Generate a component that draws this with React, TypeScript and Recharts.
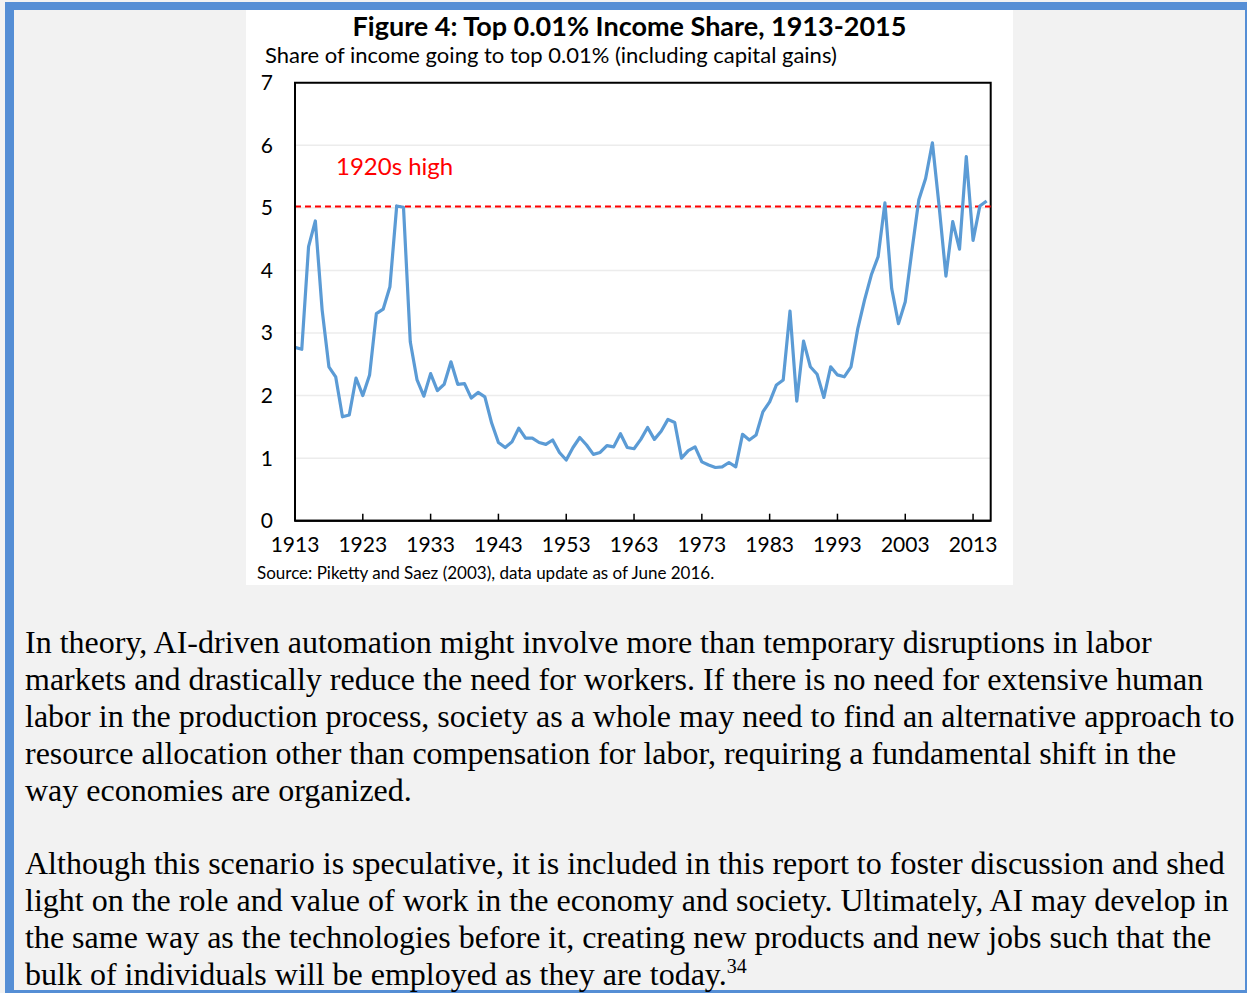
import {
    LineChart,
    Line,
    XAxis,
    YAxis,
    CartesianGrid,
    ReferenceLine,
    ReferenceArea,
} from "recharts";

// top 0.01% income share (incl. capital gains), one value per year from 1913
const startYear = 1913;
const shareValues: number[] = [
    2.77, 2.74, 4.38, 4.79, 3.37, 2.46, 2.3, 1.66, 1.69, 2.28, // 1913-1922
    2.0, 2.33, 3.31, 3.38, 3.74, 5.03, 5.01, 2.86, 2.25, 1.99, // 1923-1932
    2.35, 2.08, 2.18, 2.54, 2.18, 2.19, 1.96, 2.05, 1.98, 1.56, // 1933-1942
    1.25, 1.17, 1.26, 1.48, 1.32, 1.32, 1.25, 1.22, 1.29, 1.09, // 1943-1952
    0.97, 1.17, 1.33, 1.21, 1.06, 1.09, 1.2, 1.18, 1.39, 1.17, // 1953-1962
    1.15, 1.3, 1.49, 1.3, 1.43, 1.62, 1.57, 1.0, 1.12, 1.18, // 1963-1972
    0.94, 0.89, 0.85, 0.86, 0.93, 0.86, 1.38, 1.29, 1.37, 1.74, // 1973-1982
    1.9, 2.17, 2.25, 3.35, 1.91, 2.87, 2.46, 2.34, 1.97, 2.46, // 1983-1992
    2.33, 2.3, 2.46, 3.07, 3.53, 3.93, 4.22, 5.08, 3.71, 3.15, // 1993-2002
    3.5, 4.33, 5.13, 5.47, 6.04, 5.02, 3.91, 4.78, 4.34, 5.82, // 2003-2012
    4.48, 5.03, 5.11, // 2013-2015
];
const xTicks = [1913, 1923, 1933, 1943, 1953, 1963, 1973, 1983, 1993, 2003, 2013];
const yTicks = [0, 1, 2, 3, 4, 5, 6, 7];
const xDomain: [number, number] = [1913, 2015.6];
const yDomain: [number, number] = [0, 7];
const highMark = 5.02;

const paragraphOne = [
    "In theory, AI-driven automation might involve more than temporary disruptions in labor",
    "markets and drastically reduce the need for workers. If there is no need for extensive human",
    "labor in the production process, society as a whole may need to find an alternative approach to",
    "resource allocation other than compensation for labor, requiring a fundamental shift in the",
    "way economies are organized.",
];
const paragraphTwo = [
    "Although this scenario is speculative, it is included in this report to foster discussion and shed",
    "light on the role and value of work in the economy and society. Ultimately, AI may develop in",
    "the same way as the technologies before it, creating new products and new jobs such that the",
    "bulk of individuals will be employed as they are today.",
];

const data = shareValues.map((v, i) => ({ year: startYear + i, share: v }));

const chartFont = "Lato, 'Open Sans', sans-serif";
const bodyFont = "'Liberation Serif', 'Times New Roman', serif";
const blue = "#558ed5";

const XTick = (props: any) => {
    const { x, y, payload } = props;
    return (
        <g>
            <line x1={x} x2={x} y1={y} y2={y - 7} stroke="#000" strokeWidth={1.5} />
            <text x={x} y={y + 31} textAnchor="middle" fontSize={21} fill="#000" fontFamily={chartFont}>
                {payload.value}
            </text>
        </g>
    );
};

export default function App() {
    return (
        <div
            style={{
                position: "absolute",
                left: 0,
                top: 0,
                width: 1247,
                height: 993,
                background: "#f2f2f2",
                overflow: "hidden",
            }}
        >
            {/* page frame */}
            <div style={{ position: "absolute", left: 5, top: 2, width: 1242, height: 8, background: blue }} />
            <div style={{ position: "absolute", left: 5, top: 2, width: 9, height: 991, background: blue }} />
            <div style={{ position: "absolute", left: 1245, top: 2, width: 2, height: 991, background: blue }} />
            <div style={{ position: "absolute", left: 5, top: 990, width: 1242, height: 3, background: blue }} />

            {/* chart card */}
            <div
                style={{
                    position: "absolute",
                    left: 246,
                    top: 10,
                    width: 767,
                    height: 575,
                    background: "#fff",
                    fontFamily: chartFont,
                }}
            >
                <div
                    style={{
                        position: "absolute",
                        left: 0,
                        width: 767,
                        top: 0,
                        textAlign: "center",
                        fontWeight: 700,
                        fontSize: 27,
                        lineHeight: "32px",
                        color: "#000",
                    }}
                >
                    Figure 4: Top 0.01% Income Share, 1913-2015
                </div>
                <div
                    style={{
                        position: "absolute",
                        left: 19,
                        top: 31,
                        fontSize: 22,
                        lineHeight: "28px",
                        color: "#000",
                        whiteSpace: "nowrap",
                    }}
                >
                    Share of income going to top 0.01% (including capital gains)
                </div>

                <div style={{ position: "absolute", left: 0, top: 50 }}>
                    <LineChart
                        width={767}
                        height={525}
                        data={data}
                        margin={{ top: 22.7, right: 22.3, left: 0, bottom: 0 }}
                    >
                        <CartesianGrid vertical={false} stroke="#ececec" strokeWidth={1.5} />
                        <XAxis
                            dataKey="year"
                            type="number"
                            domain={xDomain}
                            ticks={xTicks}
                            height={64.3}
                            axisLine={{ stroke: "#000", strokeWidth: 2 }}
                            tickLine={false}
                            tickSize={0}
                            tickMargin={0}
                            tick={<XTick />}
                            interval={0}
                        />
                        <YAxis
                            domain={yDomain}
                            ticks={yTicks}
                            width={49}
                            axisLine={{ stroke: "#000", strokeWidth: 2 }}
                            tickLine={false}
                            tickSize={0}
                            tickMargin={22}
                            interval={0}
                            tick={{ fill: "#000", fontSize: 21, fontFamily: chartFont }}
                        />
                        <ReferenceArea
                            x1={xDomain[0]}
                            x2={xDomain[1]}
                            y1={yDomain[0]}
                            y2={yDomain[1]}
                            fill="none"
                            stroke="#000"
                            strokeWidth={2}
                        />
                        <ReferenceLine
                            y={highMark}
                            stroke="#ff0000"
                            strokeWidth={2}
                            strokeDasharray="6 4"
                        />
                        <Line
                            type="linear"
                            dataKey="share"
                            stroke="#5b9bd5"
                            strokeWidth={3.2}
                            strokeLinejoin="round"
                            dot={false}
                            activeDot={false}
                            isAnimationActive={false}
                        />
                    </LineChart>
                </div>

                <div
                    style={{
                        position: "absolute",
                        left: 90,
                        top: 141,
                        fontSize: 24,
                        lineHeight: "30px",
                        color: "#ff0000",
                        whiteSpace: "nowrap",
                    }}
                >
                    1920s high
                </div>

                <div
                    style={{
                        position: "absolute",
                        left: 11,
                        top: 552,
                        fontSize: 17,
                        lineHeight: "22px",
                        color: "#000",
                        whiteSpace: "nowrap",
                    }}
                >
                    Source: Piketty and Saez (2003), data update as of June 2016.
                </div>
            </div>

            {/* report text */}
            <div
                style={{
                    position: "absolute",
                    left: 25,
                    top: 623.5,
                    fontFamily: bodyFont,
                    fontSize: 32,
                    lineHeight: "37px",
                    color: "#000",
                    whiteSpace: "nowrap",
                }}
            >
                {paragraphOne.map((line) => (
                    <div key={line}>{line}</div>
                ))}
                <div style={{ height: 36 }} />
                {paragraphTwo.map((line, i) => (
                    <div key={line}>
                        {line}
                        {i === paragraphTwo.length - 1 && (
                            <sup style={{ fontSize: 20, lineHeight: 0 }}>34</sup>
                        )}
                    </div>
                ))}
            </div>
        </div>
    );
}
